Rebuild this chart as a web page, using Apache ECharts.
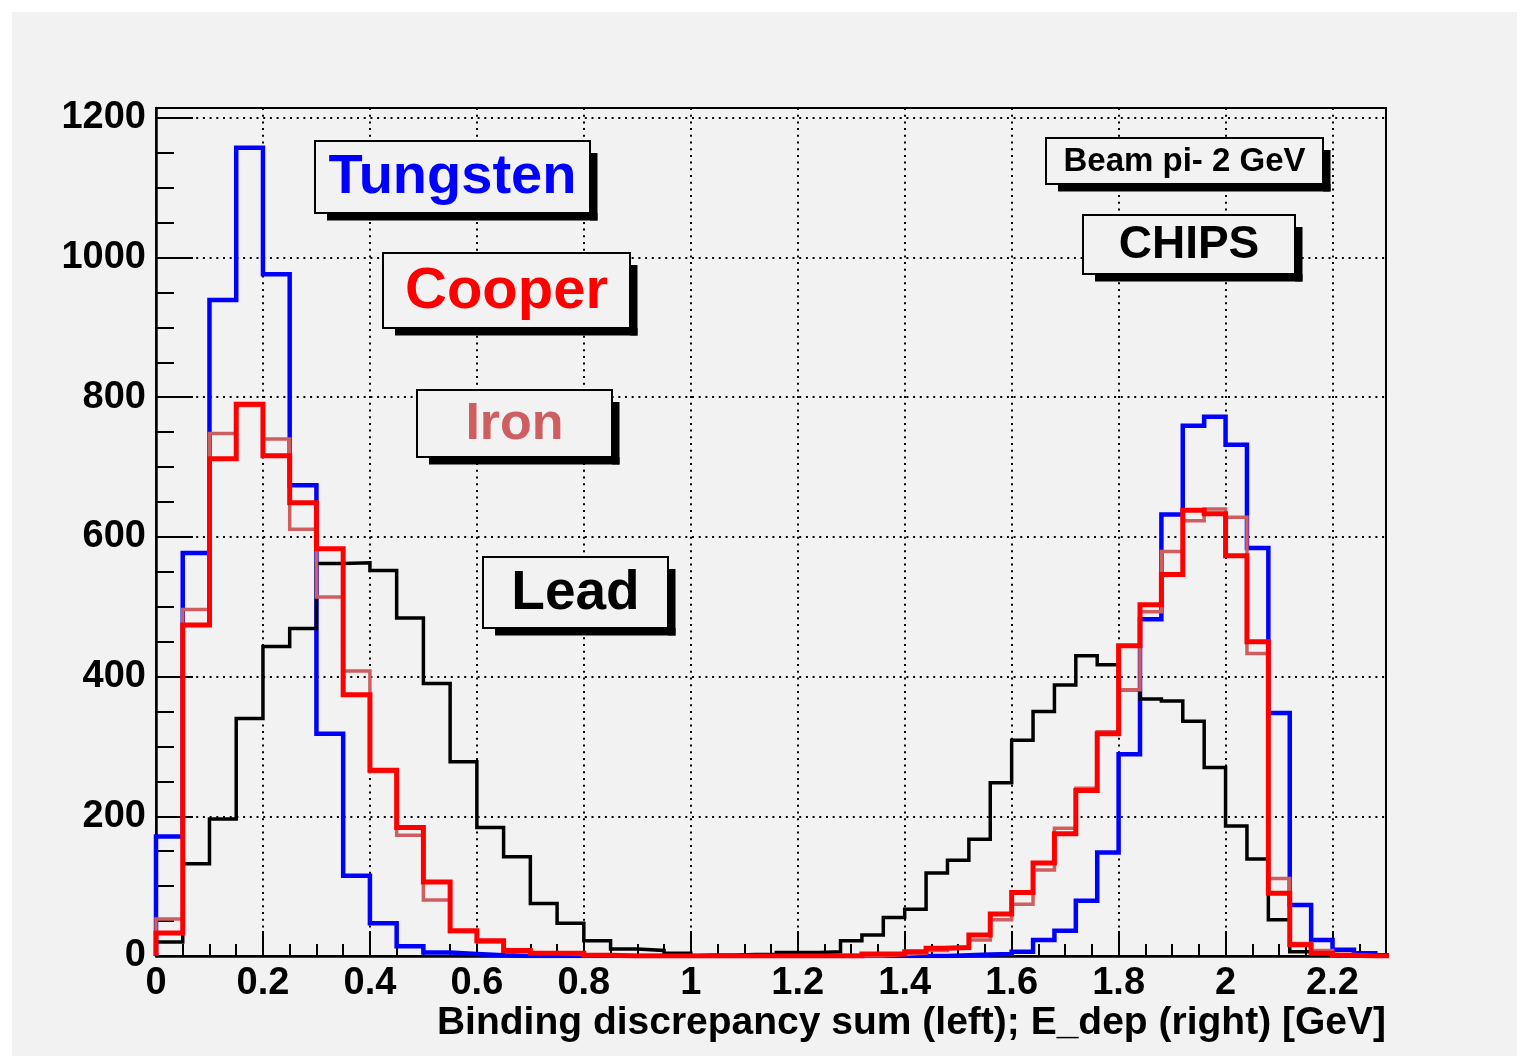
<!DOCTYPE html>
<html>
<head>
<meta charset="utf-8">
<title>Binding discrepancy and deposited energy</title>
<script src="https://cdn.jsdelivr.net/npm/echarts@6/dist/echarts.min.js"></script>
<style>
  html, body { margin: 0; padding: 0; background: #ffffff; }
  #chart { width: 1521px; height: 1059px; }
</style>
</head>
<body>
<div id="chart"></div>
<script>
// Left block: binding discrepancy sum, 0.05 GeV bins from 0 to 1.0
const leftStart = 0.0;
const leftBinWidth = 0.05;
const leftTungsten = [171, 577, 939, 1157, 976, 674, 318, 115, 47, 14, 5, 3, 1, 0, 0, 0, 0, 0, 0, 0];
const leftCopper   = [33, 474, 712, 790, 716, 649, 583, 374, 266, 184, 106, 36, 22, 8, 4, 4, 1, 0, 0, 0];
const leftIron     = [53, 496, 748, 788, 740, 611, 514, 408, 264, 173, 80, 35, 20, 8, 4, 2, 1, 0, 0, 0];
const leftLead     = [20, 132, 196, 340, 443, 469, 562, 563, 552, 484, 390, 278, 184, 142, 75, 47, 22, 10, 8, 4];

// Right block: deposited energy, 0.04 GeV bins from 1.00 to 2.32
const rightStart = 1.0;
const rightBinWidth = 0.04;
const rightTungsten = [0, 0, 0, 0, 0, 0, 0, 0, 0, 0, 0, 0, 1, 2, 3, 6, 23, 36, 79, 148, 289, 482, 632, 759, 772, 732, 584, 348, 73, 23, 9, 4, 1];
const rightCopper   = [0, 0, 0, 0, 0, 0, 0, 0, 3, 3, 6, 11, 12, 30, 60, 91, 133, 175, 237, 318, 444, 503, 546, 638, 633, 573, 450, 90, 16, 4, 1, 0, 0];
const rightIron     = [0, 0, 0, 0, 0, 0, 0, 0, 0, 2, 4, 8, 12, 23, 52, 74, 123, 183, 240, 321, 381, 493, 579, 623, 640, 628, 433, 111, 18, 8, 2, 0, 0];
const rightLead     = [1, 1, 2, 2, 5, 5, 6, 22, 30, 55, 67, 119, 137, 167, 248, 309, 350, 388, 430, 417, 381, 368, 365, 336, 270, 186, 139, 52, 6, 2, 1, 0, 0];

// Axis ranges and ticks
const xMin = 0, xMax = 2.3, xMajor = 0.2, xMinor = 0.05;
const yMin = 0, yMax = 1214, yMajor = 200, yMinor = 50;
const xTitle = 'Binding discrepancy sum (left); E_dep (right) [GeV]';

const FONT = '"Liberation Sans", Arial, Helvetica, sans-serif';
const COL = { tungsten: '#0000ff', copper: '#ff0000', iron: '#cf5e61', lead: '#000000' };
const PAD = '#f2f2f2';

// Outline of a histogram: vertical and horizontal segments through the bin edges
function histOutline(start, width, values) {
  const pts = [];
  let edge = start;
  pts.push([edge, 0]);
  values.forEach(function (v, i) {
    const x0 = +(start + i * width).toFixed(6);
    const x1 = +(start + (i + 1) * width).toFixed(6);
    pts.push([x0, v], [x1, v]);
    edge = x1;
  });
  pts.push([edge, 0]);
  return pts;
}
function material(left, right) {
  return histOutline(leftStart, leftBinWidth, left).concat(histOutline(rightStart, rightBinWidth, right));
}

function histSeries(name, data, color, width, z) {
  return {
    name: name, type: 'line', data: data, z: z,
    showSymbol: false, symbol: 'none', silent: true, animation: false, clip: true,
    lineStyle: { color: color, width: width, join: 'miter', cap: 'butt' }
  };
}

// Framed label with a drop shadow
function labelBox(l, t, r, b, text, color, size) {
  const d = 7.5, inset = 12;
  return [
    { type: 'rect', z: 100, shape: { x: l + inset, y: b, width: r + d - l - inset, height: d }, style: { fill: '#000' } },
    { type: 'rect', z: 100, shape: { x: r, y: t + inset, width: d, height: b + d - t - inset }, style: { fill: '#000' } },
    { type: 'rect', z: 101, shape: { x: l, y: t, width: r - l, height: b - t }, style: { fill: PAD, stroke: '#000', lineWidth: 2 } },
    { type: 'text', z: 102, x: (l + r) / 2, y: (t + b) / 2 + 1,
      style: { text: text, fill: color, font: 'bold ' + size + 'px ' + FONT,
               textAlign: 'center', align: 'center', textVerticalAlign: 'middle', verticalAlign: 'middle' } }
  ];
}

const plainNumber = function (v) { return String(+v.toFixed(6)); };
const labelFont = { color: '#000', fontFamily: FONT, fontWeight: 'bold', fontSize: 38, formatter: plainNumber };
const gridDots = { color: '#000', width: 2, type: [2, 4.7] };

const chart = echarts.init(document.getElementById('chart'), null, { renderer: 'canvas' });
chart.setOption({
  animation: false,
  backgroundColor: '#ffffff',
  grid: { left: 156, right: 135, top: 108, bottom: 103, show: true, borderColor: '#000', borderWidth: 2, backgroundColor: 'transparent' },
  xAxis: [
    { type: 'value', min: xMin, max: xMax, interval: xMajor, position: 'bottom',
      axisLine: { show: true, onZero: false, lineStyle: { color: '#000', width: 2.5 } },
      axisTick: { show: true, inside: true, length: 25, lineStyle: { color: '#000', width: 2 } },
      minorTick: { show: false },
      axisLabel: Object.assign({ margin: 9, showMaxLabel: false }, labelFont),
      splitLine: { show: true, lineStyle: gridDots } },
    { type: 'value', min: xMin, max: xMax, interval: xMinor, position: 'bottom',
      axisLine: { show: false, onZero: false },
      axisTick: { show: true, inside: true, length: 12, lineStyle: { color: '#000', width: 2 } },
      axisLabel: { show: false }, splitLine: { show: false } }
  ],
  yAxis: [
    { type: 'value', min: yMin, max: yMax, interval: yMajor, position: 'left',
      axisLine: { show: true, onZero: false, lineStyle: { color: '#000', width: 2.5 } },
      axisTick: { show: true, inside: true, length: 37, lineStyle: { color: '#000', width: 2 } },
      minorTick: { show: false },
      axisLabel: Object.assign({ margin: 10, showMaxLabel: false }, labelFont),
      splitLine: { show: true, lineStyle: gridDots } },
    { type: 'value', min: yMin, max: yMax, interval: yMinor, position: 'left',
      axisLine: { show: false, onZero: false },
      axisTick: { show: true, inside: true, length: 18, lineStyle: { color: '#000', width: 2 } },
      axisLabel: { show: false }, splitLine: { show: false } }
  ],
  series: [
    histSeries('Tungsten', material(leftTungsten, rightTungsten), COL.tungsten, 4.5, 3),
    histSeries('Lead', material(leftLead, rightLead), COL.lead, 3.5, 4),
    histSeries('Iron', material(leftIron, rightIron), COL.iron, 3.5, 5),
    histSeries('Cooper', material(leftCopper, rightCopper), COL.copper, 5, 6)
  ],
  graphic: [].concat(
    [{ type: 'rect', z: -10, silent: true, shape: { x: 12, y: 12, width: 1505, height: 1044 }, style: { fill: PAD } }],
    labelBox(315, 141, 590, 213, 'Tungsten', COL.tungsten, 56),
    labelBox(383, 253, 630, 328, 'Cooper', COL.copper, 58),
    labelBox(417, 390, 612, 457, 'Iron', COL.iron, 52),
    labelBox(483, 557, 668, 628, 'Lead', COL.lead, 55),
    labelBox(1046, 138, 1323, 184, 'Beam pi- 2 GeV', '#000', 33),
    labelBox(1083, 215, 1295, 274, 'CHIPS', '#000', 46),
    [{ type: 'text', z: 50, x: 1386, y: 1023,
       style: { text: xTitle, fill: '#000', font: 'bold 39px ' + FONT,
                textAlign: 'right', align: 'right', textVerticalAlign: 'middle', verticalAlign: 'middle' } }]
  )
});
</script>
</body>
</html>
